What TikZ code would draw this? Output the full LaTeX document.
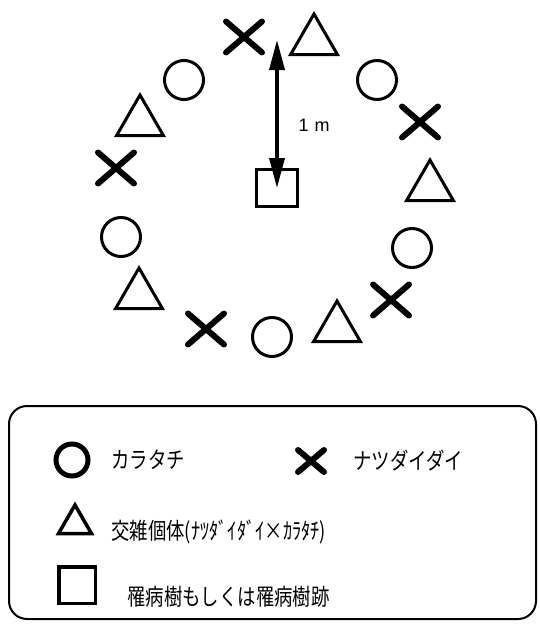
\documentclass[tikz,border=0pt]{standalone}
\usepackage{fontspec}
\newfontfamily\jp[FakeStretch=0.8]{Noto Sans CJK JP}
\newfontfamily\arial{Liberation Sans}
\usetikzlibrary{shapes.geometric,arrows.meta}
\begin{document}
\begin{tikzpicture}[x=1pt,y=-1pt,
  circ/.style={circle,draw,line width=3pt,minimum size=39pt,inner sep=0pt},
  tri/.style={regular polygon,regular polygon sides=3,draw,line width=3pt,minimum size=54pt,inner sep=0pt},
  xline/.style={line width=6pt,line cap=round},
  xmark/.style={minimum width=36pt,minimum height=31pt,inner sep=0pt,outer sep=0pt,
     append after command={(\tikzlastnode.north west) edge[xline] (\tikzlastnode.south east)
        (\tikzlastnode.north east) edge[xline] (\tikzlastnode.south west)}},
  sqbox/.style={draw,line width=3pt,minimum width=41pt,minimum height=37pt,inner sep=0pt},
  jptext/.style={anchor=west,inner sep=0pt,font=\jp\fontsize{23}{23}\selectfont},
  dim/.style={line width=3.5pt,{Triangle[length=30pt,width=15pt]}-{Triangle[length=30pt,width=15pt]}}
]
\useasboundingbox (0,0) rectangle (539,624);

% ring of trees
\node[circ] (c1) at (184,80) {};
\node[circ] (c2) at (377,80) {};
\node[circ] (c3) at (121,237) {};
\node[circ] (c4) at (412,248) {};
\node[circ] (c5) at (272,337) {};

\node[tri] (t1) at (314,41) {};
\node[tri] (t2) at (140,122) {};
\node[tri] (t3) at (430,187) {};
\node[tri] (t4) at (139,295) {};
\node[tri] (t5) at (337,328) {};

\node[xmark] (x1) at (244,37) {};
\node[xmark] (x2) at (420,122) {};
\node[xmark] (x3) at (116,168) {};
\node[xmark] (x4) at (206,329) {};
\node[xmark] (x5) at (391,300) {};

% centre
\node[sqbox] (sq) at (277,188) {};
\coordinate (atop) at (277,40);
\draw[dim] (atop) -- (sq.center);
\node[font=\arial\fontsize{18}{18}\selectfont] (lbl) at (314,125) {1\hspace{6pt}m};

% legend
\node[draw,line width=2pt,rounded corners=18pt,minimum width=527pt,minimum height=213pt,inner sep=0pt] (legend) at (272.5,512.5) {};

\node[circle,draw,line width=5pt,minimum size=32pt,inner sep=0pt] (lc) at (72,460) {};
\node[jptext] (lcT) at (111,460) {カラタチ};

\node[xmark,minimum width=26pt,minimum height=22pt] (lx) at (311,461) {};
\node[jptext] (lxT) at (353,461) {ナツダイダイ};

\node[tri,line width=3.5pt,minimum size=38pt] (lt) at (75,524) {};
\node[jptext] (ltT) at (111,532) {交雑個体(ﾅﾂﾀﾞｲﾀﾞｲ×ｶﾗﾀﾁ)};

\node[sqbox,line width=3.5pt,minimum width=36.5pt,minimum height=36.5pt] (ls) at (77,585) {};
\node[jptext] (lsT) at (127,597) {罹病樹もしくは罹病樹跡};
\end{tikzpicture}
\end{document}
